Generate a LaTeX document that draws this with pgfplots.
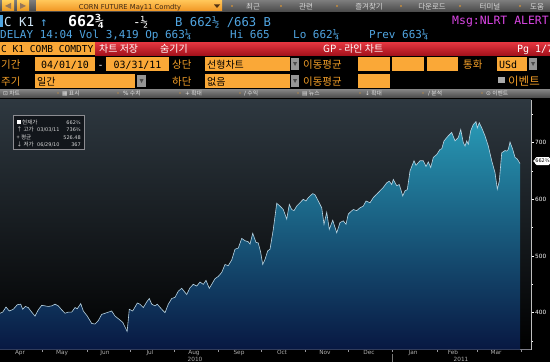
\documentclass[border=0pt]{standalone}
\usepackage{fontspec}
\setmainfont{DejaVu Sans}
\newfontfamily\kr{Noto Sans CJK KR}
\newfontfamily\mono{DejaVu Sans Mono}
\newfontfamily\sym{DejaVu Sans}
\usepackage{pgfplots}
\pgfplotsset{compat=1.18}
\usepackage{pgfplotstable}

\definecolor{bbor}{RGB}{245,160,40}
\definecolor{bbbox}{RGB}{250,168,55}
\definecolor{bbblue}{RGB}{80,165,225}
\definecolor{bblight}{RGB}{205,228,245}
\definecolor{bbmag}{RGB}{220,70,230}
\definecolor{bbline}{RGB}{185,212,226}
\definecolor{bbgray}{RGB}{175,175,175}
\definecolor{arrowc}{RGB}{150,120,90}
\definecolor{ddarrow}{RGB}{80,50,20}
\definecolor{menutxt}{RGB}{215,215,215}
\definecolor{ddgray}{RGB}{150,150,150}
\definecolor{evgray}{RGB}{170,170,170}
\definecolor{tooltxt}{RGB}{225,225,225}
\definecolor{sepgray}{RGB}{120,120,120}
\definecolor{legbg}{RGB}{18,22,27}
\definecolor{legbd}{RGB}{140,140,145}
\definecolor{legtx}{RGB}{215,215,215}

\pgfplotstableread{
d v
0 399
1.9 401
4.2 410
6.5 403
9.3 406
12.1 414
14.5 415
15.9 406
17.7 411
19.8 409
22.2 401
24.5 394
26.8 405
29.2 413
31.5 412
33.8 411
36.2 412
38.5 415
40.8 412
43.2 405
45.5 399
47.8 401
50.2 401
52.5 409
54.1 407
56.5 416
58.3 403
61.1 394
64.2 381
66.5 380
68.8 386
71.2 397
74.7 400
78.2 403
80.5 394
83.5 388
85.9 383
89 367
90.5 406
92.9 403
96.1 417
98 415
100.3 409
102.7 419
104.5 425
106.2 415
108.5 412
110.1 415
113.2 406
115.5 400
117.8 415
120.2 425
122.5 427
124.8 438
127.2 443
130.7 432
133 444
135.3 450
137.7 447
140 454
142.3 450
144.2 457
146.5 443
148.2 450
150.5 460
152.8 464
155.2 471
157.5 485
159.8 483
162.2 493
164.5 512
166.8 514
169.2 531
171.5 527
173.8 525
175 521
176.9 540
179.2 524
180.8 523
182.5 506
183.9 485
185.5 494
187.4 509
189 512
191.3 547
193.7 593
196 588
198.3 582
200.7 565
202.5 591
204.2 582
205.8 580
207.7 588
210 594
212.3 600
214.2 597
215.8 603
217.5 607
218.9 610
220.5 608
222.8 597
225.2 585
226.8 556
228.7 577
230.5 547
232.9 563
235.7 541
238 559
240.3 562
242.2 556
243.8 574
245 577
247.3 582
249.7 580
252 585
254.3 588
256.2 597
259 594
261.3 603
263.7 609
266 615
268.3 621
270.7 629
272.5 632
274.2 626
275.3 635
277.7 624
279.5 626
281.9 606
283.5 615
285.1 617
287 650
289.8 668
291.2 660
294 668
296.3 668
298.2 658
299.8 666
301.5 656
303.3 674
305.7 679
308 688
309.2 689
310.8 703
313.8 712
316.2 718
318.5 703
320.8 709
322.5 723
324.3 700
325.5 694
326.7 703
327.8 697
329.5 721
331.3 732
333.2 737
334.1 726
335.5 735
337.2 726
339.5 712
341.8 694
344.2 668
346.5 647
348.1 618
349.5 632
351.2 682
353.5 686
354.7 685
355.8 688
357 701
358.9 688
360.5 674
362.1 671
364 663
}\cornData

\begin{document}
\begin{tikzpicture}[x=1bp,y=1bp]
\path[use as bounding box] (0,0) rectangle (550,362);
\fill[black] (0,0) rectangle (550,362);

% ---------- top bar ----------
\shade[top color={rgb,255:red,125;green,125;blue,125}, bottom color={rgb,255:red,72;green,72;blue,72}] (0,{362-12}) rectangle (550,362);
\shade[top color={rgb,255:red,255;green,205;blue,90}, bottom color={rgb,255:red,235;green,150;blue,30}] (2,{362-11}) rectangle (14,{362-1});
\shade[top color={rgb,255:red,255;green,205;blue,90}, bottom color={rgb,255:red,235;green,150;blue,30}] (17,{362-11}) rectangle (29,{362-1});
\fill[fill=arrowc] (5,356) -- (11,359) -- (11,353) -- cycle;
\fill[fill=arrowc] (26,356) -- (20,359) -- (20,353) -- cycle;
\shade[top color={rgb,255:red,255;green,195;blue,85}, bottom color={rgb,255:red,240;green,150;blue,35}] (36,{362-11}) rectangle (222,{362-1});
\node[anchor=base, inner sep=0, font=\fontsize{6.8}{7}\selectfont, text={rgb,255:red,60;green,40;blue,20}] at (130,{362-9}) {CORN FUTURE May11 Comdty};
\fill[fill=ddarrow] (214,357.5) -- (220,357.5) -- (217,354) -- cycle;
\foreach \px/\t in {253/최근,306/관련,369/즐겨찾기,432/다운로드,490/터미널,537/도움}
  \node[anchor=base, inner sep=0, font=\kr\fontsize{7.5}{8}\selectfont, text=menutxt] at (\px,{362-9.5}) {\t};
\foreach \px in {232,281,337,401,460,520}
  \fill[fill=bbor] (\px,356) circle (0.9);

% ---------- row 2 ----------
\fill[fill=bbblue] (0,{362-27}) rectangle (3,{362-15});
\node[anchor=base west, inner sep=0, font=\mono\fontsize{12.5}{13}\selectfont, text=bblight] at (4,{362-26}) {C K1};
\node[anchor=base west, inner sep=0, font=\mono\fontsize{12.5}{13}\selectfont, text=bbblue] at (40,{362-26}) {↑};
\node[anchor=base west, inner sep=0, font=\mono\bfseries\fontsize{15}{16}\selectfont, text=white] at (68,{362-26}) {662¾};
\node[anchor=base west, inner sep=0, font=\mono\fontsize{12.5}{13}\selectfont, text=white] at (133,{362-26}) {-½};
\node[anchor=base west, inner sep=0, font=\mono\fontsize{12.3}{13}\selectfont, text=bbblue] at (175,{362-26}) {B 662½ /663 B};
\node[anchor=base west, inner sep=0, font=\mono\fontsize{11.5}{12}\selectfont, text=bbmag] at (452,{362-24}) {Msg:NLRT ALERT};

% ---------- row 3 ----------
\node[anchor=base west, inner sep=0, font=\mono\fontsize{11}{12}\selectfont, text=bbblue] at (0,{362-38.5}) {DELAY 14:04 Vol 3,419 Op 663¼};
\node[anchor=base west, inner sep=0, font=\mono\fontsize{11}{12}\selectfont, text=bbblue] at (230,{362-38.5}) {Hi 665};
\node[anchor=base west, inner sep=0, font=\mono\fontsize{11}{12}\selectfont, text=bbblue] at (293,{362-38.5}) {Lo 662¼};
\node[anchor=base west, inner sep=0, font=\mono\fontsize{11}{12}\selectfont, text=bbblue] at (369,{362-38.5}) {Prev 663¼};

% ---------- row 4 ----------
\fill[fill=bbbox] (0,{362-55}) rectangle (95,{362-42});
\node[anchor=base west, inner sep=0, font=\mono\fontsize{9.6}{10}\selectfont, text=black] at (1,{362-52.5}) {C K1 COMB COMDTY};
\shade[top color={rgb,255:red,230;green,55;blue,65}, bottom color={rgb,255:red,165;green,18;blue,28}] (95,{362-55}) rectangle (550,{362-42});
\node[anchor=base west, inner sep=0, font=\kr\fontsize{10}{11}\selectfont, text=white] at (99,{362-52.5}) {차트 저장};
\node[anchor=base west, inner sep=0, font=\kr\fontsize{10}{11}\selectfont, text=white] at (160,{362-52.5}) {숨기기};
\node[anchor=base west, inner sep=0, font=\kr\fontsize{10}{11}\selectfont, text=white] at (323,{362-52.5}) {GP - 라인 차트};
\node[anchor=base west, inner sep=0, font=\mono\fontsize{10}{11}\selectfont, text=white] at (517,{362-52.5}) {Pg 1/7};

% ---------- row 5 ----------
\tikzset{lab/.style={anchor=base west, inner sep=0, font=\kr\fontsize{10.5}{11}\selectfont, text=bbor},
         boxt/.style={anchor=base west, inner sep=0, font=\kr\fontsize{10}{11}\selectfont, text=black},
         ddown/.style={fill=ddgray}}
\node[lab] at (1,{362-68.5}) {기간};
\fill[fill=bbbox] (35,{362-71}) rectangle (95,{362-57});
\node[anchor=base, inner sep=0, font=\mono\fontsize{10}{11}\selectfont, text=black] at (65,{362-68}) {04/01/10};
\node[anchor=base, inner sep=0, font=\mono\fontsize{10}{11}\selectfont, text=white] at (100.5,{362-68}) {-};
\fill[fill=bbbox] (106,{362-71}) rectangle (169,{362-57});
\node[anchor=base, inner sep=0, font=\mono\fontsize{10}{11}\selectfont, text=black] at (137.5,{362-68}) {03/31/11};
\node[lab] at (172,{362-68.5}) {상단};
\fill[fill=bbbox] (205,{362-71}) rectangle (290,{362-57});
\node[boxt] at (207,{362-68.5}) {선형차트};
\fill[ddown] (291,{362-70}) rectangle (299,{362-58});
\fill[fill=black!70] (293,{362-62}) -- (297,{362-62}) -- (295,{362-66}) -- cycle;
\node[lab] at (303,{362-68.5}) {이동평균};
\fill[fill=bbbox] (358,{362-71}) rectangle (390,{362-57});
\fill[fill=bbbox] (392,{362-71}) rectangle (424,{362-57});
\fill[fill=bbbox] (427,{362-71}) rectangle (458,{362-57});
\node[lab] at (463,{362-68.5}) {통화};
\fill[fill=bbbox] (497,{362-71}) rectangle (527,{362-57});
\node[anchor=base west, inner sep=0, font=\mono\fontsize{10}{11}\selectfont, text=black] at (499,{362-68}) {USd};
\fill[ddown] (529,{362-70}) rectangle (537,{362-58});
\fill[fill=black!70] (531,{362-62}) -- (535,{362-62}) -- (533,{362-66}) -- cycle;

% ---------- row 6 ----------
\node[lab] at (1,{362-85}) {주기};
\fill[fill=bbbox] (35,{362-87.5}) rectangle (135,{362-74});
\node[boxt] at (37,{362-85}) {일간};
\fill[ddown] (137,{362-87}) rectangle (146,{362-75});
\fill[fill=black!70] (139.5,{362-79}) -- (143.5,{362-79}) -- (141.5,{362-83}) -- cycle;
\node[lab] at (172,{362-85}) {하단};
\fill[fill=bbbox] (205,{362-87.5}) rectangle (290,{362-74});
\node[boxt] at (207,{362-85}) {없음};
\fill[ddown] (291,{362-87}) rectangle (299,{362-75});
\fill[fill=black!70] (293,{362-79}) -- (297,{362-79}) -- (295,{362-83}) -- cycle;
\node[lab] at (303,{362-85}) {이동평균};
\fill[fill=bbbox] (358,{362-87.5}) rectangle (390,{362-74});
\fill[fill=evgray] (498,{362-83}) rectangle (505,{362-77});
\node[lab, font=\kr\fontsize{11.5}{12}\selectfont] at (508,{362-85.5}) {이벤트};

% ---------- toolbar ----------
\shade[top color={rgb,255:red,135;green,135;blue,135}, bottom color={rgb,255:red,75;green,75;blue,75}] (0,{362-97.5}) rectangle (550,{362-89});
\foreach \px/\s/\t in {3/⊡/차트,62/▦/표시,123/\%/수치/기간,185/+/확대,244/∕/수익,302/▤/뉴스,365/↓/확대,428/∕/분석,486/⊙/이벤트}
  \node[anchor=base west, inner sep=0, font=\kr\fontsize{5.8}{6}\selectfont, text=tooltxt] at (\px,{362-95.5}) {{\sym\s}\ \t};
\foreach \px in {58,118,180,240,298,360,423,482}
  \fill[fill=bbor] (\px,{362-93}) circle (0.7);

% ---------- chart ----------
\begin{axis}[
  at={(0,22)}, anchor=south west, scale only axis,
  width=531bp, height=250bp,
  xmin=0, xmax=371.7, ymin=335, ymax=776,
  axis background/.style={top color={rgb,255:red,46;green,56;blue,64}, middle color={rgb,255:red,18;green,21;blue,25}, bottom color=black},
  separate axis lines,
  axis x line*=bottom, axis y line*=right,
  x axis line style={draw={rgb,255:red,125;green,125;blue,135}, line width=0.9bp, -},
  y axis line style={draw={rgb,255:red,190;green,190;blue,190}, line width=0.5bp, -},
  tick align=outside,
  ytick={400,500,600,700},
  minor ytick={350,450,550,650,750},
  major tick length=3bp, minor tick length=2bp,
  y tick style={draw=white, line width=0.5bp},
  yticklabel style={font=\fontsize{5.8}{6}\selectfont, text=white, inner sep=1bp},
  xtick={14,43.4,73.5,105,135.8,167.3,197.4,227.5,258.3,289.1,317.1,347.2},
  xticklabels={Apr,May,Jun,Jul,Aug,Sep,Oct,Nov,Dec,Jan,Feb,Mar},
  major x tick style={draw=none},
  minor xtick={30,61,91,122,153,183,214,244,275,306,334,365},
  minor x tick style={draw={rgb,255:red,150;green,150;blue,155}, line width=1bp},
  xticklabel style={font=\fontsize{5.8}{6}\selectfont, text=bbgray, inner sep=0pt, anchor=north, yshift=2.5bp},
  /pgf/number format/assume math mode=true,
]
\addplot[draw=none, top color={rgb,255:red,40;green,152;blue,180}, middle color={rgb,255:red,22;green,90;blue,135}, bottom color={rgb,255:red,8;green,24;blue,66}] table[x=d,y=v] {\cornData} \closedcycle;
\addplot[draw=bbline, line width=0.6bp] table[x=d,y=v] {\cornData};
\end{axis}

% year labels and separator
\node[anchor=base, inner sep=0, font=\fontsize{5.8}{6}\selectfont, text=bbgray] at (195,{362-361}) {2010};
\node[anchor=base, inner sep=0, font=\fontsize{5.8}{6}\selectfont, text=bbgray] at (461,{362-361}) {2011};
\draw[draw=sepgray, line width=0.6bp] (392.5,0) -- (392.5,{362-354});

% last value callout
\fill[fill=white, rounded corners=1.5bp] (535,{362-165}) rectangle (550,{362-157});
\fill[fill=white] (533,{362-161}) -- (536,{362-158}) -- (536,{362-164}) -- cycle;
\node[anchor=center, inner sep=0, font=\fontsize{5}{5}\selectfont, text=black] at (542.5,{362-161}) {662¾};

% legend box
\filldraw[fill=legbg, draw=legbd, line width=0.5bp] (13,{362-149}) rectangle (84,{362-115});
\tikzset{lg/.style={anchor=base west, inner sep=0, font=\kr\fontsize{5.6}{6}\selectfont, text=legtx},
         lgr/.style={anchor=base east, inner sep=0, font=\fontsize{5}{6}\selectfont, text=legtx}}
\fill[fill=white] (16.5,{362-124}) rectangle (20.5,{362-120});
\node[lg] at (22,{362-124}) {현재가};
\node[lgr] at (81,{362-124}) {662¾};
\node[lg] at (16.5,{362-131.5}) {↑ 고가};
\node[lg, font=\fontsize{5}{6}\selectfont] at (37,{362-131.5}) {03/03/11};
\node[lgr] at (81,{362-131.5}) {736¾};
\node[lg] at (16.5,{362-139}) {+ 평균};
\node[lgr] at (81,{362-139}) {526.48};
\node[lg] at (16.5,{362-146.5}) {↓ 저가};
\node[lg, font=\fontsize{5}{6}\selectfont] at (37,{362-146.5}) {06/29/10};
\node[lgr] at (81,{362-146.5}) {367};
\end{tikzpicture}
\end{document}
